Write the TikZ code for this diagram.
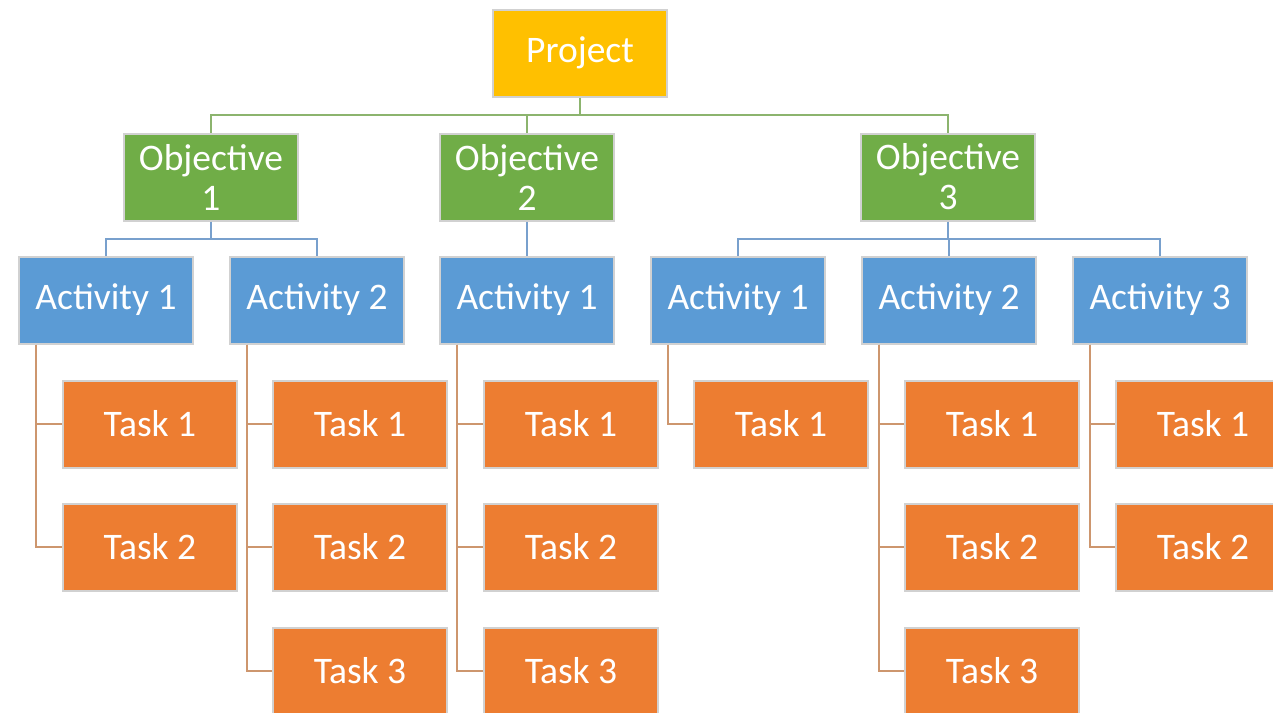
\documentclass[tikz,border=0pt]{standalone}
\usepackage{fontspec}
\setmainfont{Carlito}
\begin{document}
\begin{tikzpicture}[x=1pt,y=-1pt,
  box/.style={draw=black!18, line width=2pt, minimum width=174pt, minimum height=87pt, inner sep=0pt, text=white, font=\fontsize{37.5}{40}\selectfont, align=center},
  proj/.style={box, fill={rgb,255:red,255;green,192;blue,0}},
  obj/.style={box, fill={rgb,255:red,112;green,173;blue,71}},
  act/.style={box, fill={rgb,255:red,91;green,155;blue,213}},
  task/.style={box, fill={rgb,255:red,237;green,125;blue,49}},
  gline/.style={draw={rgb,255:red,140;green,180;blue,110}, line width=2.5pt},
  bline/.style={draw={rgb,255:red,120;green,160;blue,205}, line width=2.5pt},
  oline/.style={draw={rgb,255:red,205;green,150;blue,110}, line width=2.5pt}]
\useasboundingbox (0,0) rectangle (1273,712);
\clip (0,0) rectangle (1273,712);
\fill[white] (0,0) rectangle (1273,712);
% nodes
\node[proj] (P) at (580,53) {Project};
\node[obj] (O1) at (211,177) {Objective\\1};
\node[obj] (O2) at (527,177) {Objective\\2};
\node[obj] (O3) at (948,177) {Objective\\3};
\node[act] (A11) at (106,300) {Activity 1};
\node[act] (A12) at (317,300) {Activity 2};
\node[act] (A21) at (527,300) {Activity 1};
\node[act] (A31) at (738,300) {Activity 1};
\node[act] (A32) at (949,300) {Activity 2};
\node[act] (A33) at (1160,300) {Activity 3};
\node[task] (T111) at (150,424) {Task 1};
\node[task] (T112) at (150,547) {Task 2};
\node[task] (T121) at (360,424) {Task 1};
\node[task] (T122) at (360,547) {Task 2};
\node[task] (T123) at (360,671) {Task 3};
\node[task] (T211) at (571,424) {Task 1};
\node[task] (T212) at (571,547) {Task 2};
\node[task] (T213) at (571,671) {Task 3};
\node[task] (T311) at (781,424) {Task 1};
\node[task] (T321) at (992,424) {Task 1};
\node[task] (T322) at (992,547) {Task 2};
\node[task] (T323) at (992,671) {Task 3};
\node[task] (T331) at (1203,424) {Task 1};
\node[task] (T332) at (1203,547) {Task 2};
% connectors project -> objectives
\draw[gline] (P.south) -- (P.south |- 0,115) -| (O1.north);
\draw[gline] (P.south |- 0,115) -| (O2.north);
\draw[gline] (P.south |- 0,115) -| (O3.north);
% objectives -> activities
\draw[bline] (O1.south) -- (O1.south |- 0,239) -| (A11.north);
\draw[bline] (O1.south |- 0,239) -| (A12.north);
\draw[bline] (O2.south) -- (A21.north);
\draw[bline] (O3.south) -- (O3.south |- 0,239) -| (A31.north);
\draw[bline] (O3.south |- 0,239) -| (A32.north);
\draw[bline] (O3.south |- 0,239) -| (A33.north);
% activities -> tasks
\draw[oline] ([xshift=18pt]A11.south west) |- (T111.west);
\draw[oline] ([xshift=18pt]A11.south west) |- (T112.west);
\draw[oline] ([xshift=18pt]A12.south west) |- (T121.west);
\draw[oline] ([xshift=18pt]A12.south west) |- (T122.west);
\draw[oline] ([xshift=18pt]A12.south west) |- (T123.west);
\draw[oline] ([xshift=18pt]A21.south west) |- (T211.west);
\draw[oline] ([xshift=18pt]A21.south west) |- (T212.west);
\draw[oline] ([xshift=18pt]A21.south west) |- (T213.west);
\draw[oline] ([xshift=18pt]A31.south west) |- (T311.west);
\draw[oline] ([xshift=18pt]A32.south west) |- (T321.west);
\draw[oline] ([xshift=18pt]A32.south west) |- (T322.west);
\draw[oline] ([xshift=18pt]A32.south west) |- (T323.west);
\draw[oline] ([xshift=18pt]A33.south west) |- (T331.west);
\draw[oline] ([xshift=18pt]A33.south west) |- (T332.west);
\end{tikzpicture}
\end{document}
